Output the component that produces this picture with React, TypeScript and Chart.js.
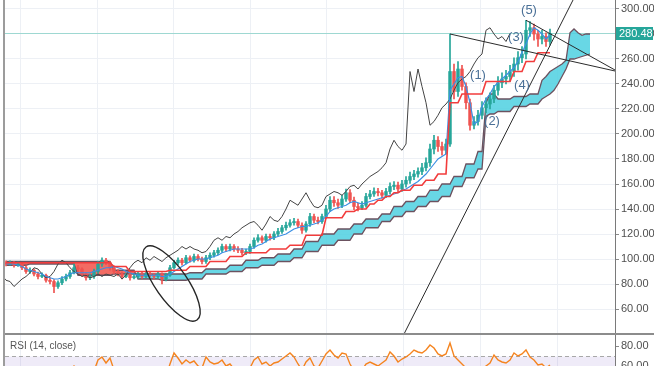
import React, { useEffect, useRef } from 'react';
import { Chart, registerables } from 'chart.js';

Chart.register(...registerables);

// ---------- data (bar index i, one bar every 4px) ----------
const firstOpen = 97;
const closes = [
  96, 97, 95, 96, 93, 90, 91, 88, 86, 87,
  83, 82, 78, 81, 84, 86, 89, 93, 92, 88,
  85, 86, 90, 96, 99, 97, 93, 90, 88, 86,
  87, 85, 86, 88, 86, 88, 87, 86, 88, 84,
  87, 93, 97, 99, 97, 101, 99, 102, 100, 98,
  101, 103, 105, 107, 110, 108, 110, 108, 107, 105,
  106, 110, 115, 117, 115, 118, 117, 120, 122, 125,
  127, 129, 130, 127, 123, 128, 134, 131, 130, 134,
  140, 147, 145, 143, 148, 153, 147, 142, 141, 143,
  150, 152, 154, 153, 151, 154, 158, 159, 156, 160,
  163, 166, 168, 170, 173, 177, 188, 195, 190, 187,
  192, 250, 234, 252, 238, 225, 207, 210, 215, 221,
  224, 228, 235, 241, 244, 246, 250, 256, 261, 264,
  283, 285, 280, 276, 278, 274, 280.48,
];
const highs = [
  98.5, 98.5, 98, 97.5, 97, 94.5, 93, 92, 89.5, 89,
  88, 85, 83.5, 82.5, 86, 88, 91, 96, 95, 93,
  89, 88, 92, 98, 101, 100.5, 98, 94.5, 91.5, 89.5,
  89, 88.5, 88, 89.5, 89.5, 89.5, 89.5, 88.5, 90, 89,
  88.5, 95, 99, 101, 100.5, 103, 102.5, 104, 103.5, 101.5,
  103, 105, 107, 109, 112, 111.5, 112, 111.5, 110, 108.5,
  108, 112, 117, 119.5, 118.5, 120, 120, 122, 124.5, 127,
  129.5, 131.5, 132.5, 132, 129, 130, 136.5, 136, 133.5, 136,
  143, 150, 150, 148, 151, 156, 155.5, 149.5, 144.5, 146,
  152.5, 155, 157, 156.5, 155, 156.5, 161, 162, 161.5, 163,
  166, 169.5, 171, 173, 176.5, 181, 192, 199, 198, 193.5,
  196, 280, 256, 258, 255, 241, 228, 214, 219, 226,
  229, 233, 239, 246, 249, 251, 255, 261, 266, 270,
  291, 290, 288, 283, 283, 281, 284,
];
const lows = [
  94.5, 95, 93.5, 94, 91.5, 88.5, 88.5, 86.5, 84, 85,
  81.5, 80, 73, 76.5, 79.5, 82.5, 84.5, 88, 90, 86.5,
  83, 83.5, 84.5, 88.5, 94, 95.5, 91, 88, 86.5, 84,
  85, 83, 84, 84.5, 84.5, 85, 85.5, 84, 84.5, 80,
  82.5, 86, 92, 95.5, 95, 96, 97.5, 97.5, 98.5, 96,
  96.5, 99.5, 101.5, 103.5, 105.5, 106, 106.5, 106, 105, 103,
  103.5, 104.5, 108.5, 113.5, 113, 113.5, 115, 115.5, 118.5, 120.5,
  123, 125.5, 127, 125, 120.5, 121.5, 126, 129, 128, 128.5,
  132.5, 138, 142, 140.5, 141, 146, 145, 139.5, 138.5, 139.5,
  141.5, 148, 150, 150.5, 148.5, 149, 152, 155.5, 153.5, 154,
  157.5, 160.5, 163.5, 165.5, 167.5, 170.5, 174, 184, 186, 183,
  184, 190, 228, 230, 235, 220, 203, 204, 207, 212,
  217, 220, 225, 231, 237, 240, 242, 246, 251, 257,
  260, 278, 275, 270, 272, 270, 271,
];
const tenkan = [
  96, 96, 96, 95, 94, 92, 91, 90, 89, 88,
  86, 85, 84, 84, 85, 86, 88, 89, 89, 89,
  89, 89, 90, 91, 92, 93, 93, 94, 93, 92,
  90, 89, 88, 87, 87, 87, 87, 87, 87, 86,
  86, 88, 90, 92, 94, 96, 98, 99, 100, 100,
  100, 101, 102, 103, 105, 106, 107, 108, 108, 108,
  108, 108, 109, 111, 112, 114, 116, 117, 118, 119,
  120, 122, 124, 125, 126, 126, 127, 128, 129, 131,
  134, 138, 140, 141, 142, 143, 145, 146, 145, 144,
  145, 146, 147, 148, 149, 150, 151, 152, 153, 155,
  156, 158, 160, 162, 165, 168, 172, 176, 180, 182,
  184, 235, 240, 245, 246, 238, 225, 208, 210, 222,
  228, 232, 238, 241, 244, 247, 250, 253, 258, 265,
  272, 280, 285, 283, 280, 276, 279,
];
const kijun = [
  97, 97, 97, 97, 97, 97, 97, 97, 97, 97,
  97, 97, 97, 97, 97, 97, 97, 97, 97, 97,
  97, 97, 97, 97, 97, 97, 97, 94, 94, 94,
  94, 90, 90, 90, 90, 90, 90, 90, 90, 90,
  90, 91, 91, 91, 91, 91, 94, 94, 94, 94,
  94, 98, 98, 98, 98, 98, 102, 102, 102, 102,
  105, 105, 105, 105, 105, 105, 108, 108, 108, 108,
  108, 111, 111, 111, 111, 119, 119, 119, 119, 119,
  133, 133, 133, 133, 133, 138, 138, 138, 140, 140,
  140, 144, 144, 147, 147, 150, 150, 153, 153, 155,
  155, 155, 159, 159, 159, 163, 163, 163, 168, 168,
  168, 225, 225, 225, 232, 232, 232, 232, 232, 232,
  242, 242, 242, 242, 242, 242, 242, 250, 250, 250,
  258, 258, 258, 265, 265, 265, 265,
];
// leading spans run 10 bars past the last candle
const spanA = [
  95, 95, 95, 95, 95, 95, 96, 96, 96, 96,
  96, 96, 96, 96, 96, 96, 96, 96, 87, 87,
  87, 87, 87, 87, 87, 87, 87, 88, 88, 88,
  88, 88, 88, 88, 88, 88, 88, 88, 88, 88,
  88, 88, 88, 88, 88, 88, 89, 89, 89, 89,
  92, 92, 92, 92, 92, 92, 95, 95, 95, 95,
  99, 99, 99, 99, 101, 101, 101, 101, 104, 104,
  104, 104, 108, 108, 108, 114, 114, 114, 114, 120,
  120, 120, 120, 124, 124, 124, 124, 128, 128, 128,
  132, 132, 132, 132, 136, 136, 136, 142, 142, 142,
  146, 146, 146, 150, 150, 150, 155, 155, 155, 160,
  160, 160, 166, 166, 166, 176, 176, 176, 186, 186,
  225, 232, 232, 228, 228, 228, 228, 230, 230, 230,
  230, 232, 232, 232, 243, 246, 250, 252, 254, 256,
  259, 281, 284, 281, 279, 280, 280,
];
const spanB = [
  98, 98, 98, 98, 98, 98, 98, 98, 98, 98,
  98, 98, 98, 98, 98, 98, 98, 98, 98, 98,
  98, 98, 98, 98, 98, 98, 98, 91, 91, 91,
  91, 91, 91, 84, 84, 84, 84, 84, 84, 83,
  83, 83, 83, 83, 83, 83, 84, 84, 84, 84,
  88, 88, 88, 88, 88, 88, 90, 90, 90, 90,
  93, 93, 93, 93, 95, 95, 95, 95, 98, 98,
  98, 98, 101, 101, 101, 106, 106, 106, 106, 111,
  111, 111, 111, 115, 115, 115, 115, 120, 120, 120,
  125, 125, 125, 125, 130, 130, 130, 134, 134, 134,
  138, 138, 138, 142, 142, 142, 146, 146, 146, 150,
  150, 150, 158, 158, 158, 165, 165, 165, 172, 172,
  214, 216, 216, 218, 218, 218, 218, 222, 222, 222,
  222, 224, 224, 224, 228, 230, 232, 235, 240, 246,
  252, 260, 260, 261, 262, 263, 264,
];
const rsi = [
  45, 48, 44, 42, 40, 42, 38, 36, 40, 42,
  38, 35, 33, 42, 48, 52, 55, 60, 57, 50,
  45, 47, 55, 66, 69, 63, 68, 56, 50, 46,
  48, 44, 46, 49, 47, 45, 50, 48, 44, 42,
  50, 62, 73, 68, 62, 66, 63, 65, 60, 58,
  69, 64, 62, 63, 66, 60, 62, 57, 52, 48,
  50, 58, 66, 69, 62, 64, 60, 63, 64, 67,
  70, 73, 69, 62, 56, 64, 68, 60, 58, 65,
  72, 76, 71, 68, 73, 72, 62, 55, 52, 56,
  62, 64, 62, 60, 63, 66, 74, 70, 64, 67,
  69, 72, 76, 74, 73, 76, 81, 78, 72, 70,
  72, 83, 70, 66, 62, 58, 48, 50, 54, 57,
  60, 63, 71, 66, 64, 63, 66, 73, 70, 72,
  76, 69, 66, 61, 62, 58, 61,
];
const LAG = 10; // lagging span shift in bars
const lastPrice = 280.48;
const priceTicks = [60, 80, 100, 120, 140, 160, 180, 200, 220, 240, 260, 280, 300];
const rsiTicks = [60, 80];
const timeGrid = [3.5, 22.75, 41.75, 61, 80, 99.25, 118.5, 137.75];
const trend1 = [{ x: 111, y: 280 }, { x: 152.25, y: 250.4 }];
const trend2 = [{ x: 130, y: 291 }, { x: 152.25, y: 251.2 }];
const trend3 = [{ x: 99, y: 36.8 }, { x: 142.5, y: 311.9 }];
const waveLabels = [
  { text: '(1)', x: 118, y: 247.2 },
  { text: '(2)', x: 121.5, y: 210.4 },
  { text: '(3)', x: 127.5, y: 277.6 },
  { text: '(4)', x: 129, y: 239.2 },
  { text: '(5)', x: 130.75, y: 299.2 },
];
const ellipseAxis = [{ x: 35, y: 109.6 }, { x: 47.75, y: 51.2 }];
const ellipseMinorPx = 16;

const FONT = '"Liberation Sans", Arial, sans-serif';
const UP = '#26a69a';
const DOWN = '#ef5350';
const GRID = '#edf0f5';

export default function App() {
  const mainRef = useRef<HTMLCanvasElement>(null);
  const rsiRef = useRef<HTMLCanvasElement>(null);

  useEffect(() => {
    const opens = closes.map((c, i) => (i === 0 ? firstOpen : closes[i - 1]));
    const colors = closes.map((c, i) => (c >= opens[i] ? UP : DOWN));

    const xScale = {
      type: 'linear' as const,
      min: -0.25,
      max: 152.25,
      offset: false,
      ticks: { display: false },
      grid: { color: GRID, drawTicks: false, offset: false },
      border: { display: false },
      afterBuildTicks: (s: any) => {
        s.ticks = timeGrid.map((v) => ({ value: v }));
      },
      afterFit: (s: any) => {
        s.height = 0;
      },
    };

    const overlay = {
      id: 'overlay',
      beforeDatasetsDraw(chart: any) {
        const { ctx, chartArea: a, scales } = chart;
        const py = Math.round(scales.y.getPixelForValue(lastPrice)) + 0.5;
        ctx.save();
        ctx.strokeStyle = '#9ed8d2';
        ctx.lineWidth = 1;
        ctx.beginPath();
        ctx.moveTo(a.left, py);
        ctx.lineTo(a.right, py);
        ctx.stroke();
        ctx.restore();
      },
      afterDatasetsDraw(chart: any) {
        const { ctx, scales } = chart;
        const { x, y } = scales;
        const x1 = x.getPixelForValue(ellipseAxis[0].x);
        const y1 = y.getPixelForValue(ellipseAxis[0].y);
        const x2 = x.getPixelForValue(ellipseAxis[1].x);
        const y2 = y.getPixelForValue(ellipseAxis[1].y);
        const cx = (x1 + x2) / 2;
        const cy = (y1 + y2) / 2;
        const half = Math.hypot(x2 - x1, y2 - y1) / 2;
        const ang = Math.atan2(y2 - y1, x2 - x1);
        ctx.save();
        ctx.beginPath();
        ctx.ellipse(cx, cy, half, ellipseMinorPx, ang, 0, Math.PI * 2);
        ctx.strokeStyle = '#262626';
        ctx.lineWidth = 1.4;
        ctx.stroke();
        ctx.font = `13px ${FONT}`;
        ctx.fillStyle = '#4a7097';
        ctx.textAlign = 'center';
        ctx.textBaseline = 'middle';
        waveLabels.forEach((w) => {
          ctx.fillText(w.text, x.getPixelForValue(w.x), y.getPixelForValue(w.y));
        });
        ctx.restore();
      },
      afterDraw(chart: any) {
        const { ctx, chartArea: a, scales } = chart;
        const py = scales.y.getPixelForValue(lastPrice);
        ctx.save();
        ctx.fillStyle = '#26a69a';
        ctx.fillRect(a.right + 1, Math.round(py - 6.5), 37, 13);
        ctx.fillStyle = '#ffffff';
        ctx.font = `11px ${FONT}`;
        ctx.textAlign = 'left';
        ctx.textBaseline = 'middle';
        ctx.fillText(lastPrice.toFixed(2), a.right + 4, py + 0.5);
        ctx.restore();
      },
    };

    const line = (data: any[], color: string, width: number, order: number, extra: any = {}) => ({
      type: 'line' as const,
      data,
      borderColor: color,
      borderWidth: width,
      pointRadius: 0,
      tension: 0,
      fill: false,
      order,
      ...extra,
    });

    const datasets: any[] = [
      line(trend1, '#2b2b2b', 1, 0),
      line(trend2, '#2b2b2b', 1, 0),
      line(trend3, '#2b2b2b', 1, 0),
      line(kijun.map((v, i) => ({ x: i, y: v })), '#f23c3c', 1.6, 1),
      line(tenkan.map((v, i) => ({ x: i, y: v })), '#3b8fe4', 1.2, 2),
      line(closes.map((c, i) => ({ x: i - LAG, y: c })), '#444444', 1, 3),
      {
        type: 'bar',
        data: closes.map((c, i) => ({ x: i, y: [opens[i], c] })),
        backgroundColor: colors,
        barThickness: 2.8,
        minBarLength: 1,
        grouped: false,
        order: 4,
      },
      {
        type: 'bar',
        data: closes.map((c, i) => ({ x: i, y: [lows[i], highs[i]] })),
        backgroundColor: colors,
        barThickness: 1,
        grouped: false,
        order: 5,
      },
      line(spanA.map((v, i) => ({ x: i, y: v })), '#6b5260', 1.3, 7, {
        fill: { target: 9, above: 'rgba(77,208,225,0.85)', below: 'rgba(240,70,60,0.8)' },
      }),
      line(spanB.map((v, i) => ({ x: i, y: v })), '#6b5260', 1.3, 6),
    ];

    const main = new Chart(mainRef.current as HTMLCanvasElement, {
      type: 'bar',
      data: { datasets },
      options: {
        responsive: false,
        animation: false,
        devicePixelRatio: 1,
        layout: { padding: { left: 5, right: 0, top: 0, bottom: 0 } },
        plugins: { legend: { display: false }, tooltip: { enabled: false } },
        scales: {
          x: xScale as any,
          y: {
            position: 'right',
            min: 39.2,
            max: 307.2,
            grid: { color: GRID, tickLength: 4, tickColor: '#8a8a8a' },
            border: { display: true, color: '#7a7a7a' },
            ticks: {
              font: { family: FONT, size: 11 },
              color: '#4f4f4f',
              padding: 2,
              autoSkip: false,
              callback: (v: any) => Number(v).toFixed(2),
            },
            afterBuildTicks: (s: any) => {
              s.ticks = priceTicks.map((v) => ({ value: v }));
            },
            afterFit: (s: any) => {
              s.width = 39;
              s.paddingTop = 0;
              s.paddingBottom = 0;
            },
          } as any,
        },
      },
      plugins: [overlay],
    } as any);

    const rsiPlugin = {
      id: 'rsiBand',
      beforeDatasetsDraw(chart: any) {
        const { ctx, chartArea: a, scales } = chart;
        const y70 = Math.round(scales.y.getPixelForValue(70)) + 0.5;
        ctx.save();
        ctx.fillStyle = 'rgba(126,87,194,0.12)';
        ctx.fillRect(a.left, y70, a.right - a.left, a.bottom - y70);
        ctx.strokeStyle = '#a8a8a8';
        ctx.setLineDash([4, 3]);
        ctx.lineWidth = 1;
        ctx.beginPath();
        ctx.moveTo(a.left, y70);
        ctx.lineTo(a.right, y70);
        ctx.stroke();
        ctx.restore();
      },
      afterDraw(chart: any) {
        const { ctx } = chart;
        ctx.save();
        ctx.font = `10px ${FONT}`;
        ctx.fillStyle = '#555555';
        ctx.textAlign = 'left';
        ctx.textBaseline = 'middle';
        ctx.fillText('RSI (14, close)', 10, 11);
        ctx.restore();
      },
    };

    const rsiChart = new Chart(rsiRef.current as HTMLCanvasElement, {
      type: 'line',
      data: {
        datasets: [
          {
            data: rsi.map((v, i) => ({ x: i, y: v })),
            borderColor: '#f5841f',
            borderWidth: 1.4,
            pointRadius: 0,
            tension: 0,
            fill: false,
          },
        ],
      },
      options: {
        responsive: false,
        animation: false,
        devicePixelRatio: 1,
        layout: { padding: { left: 5, right: 0, top: 0, bottom: 0 } },
        plugins: { legend: { display: false }, tooltip: { enabled: false } },
        scales: {
          x: xScale as any,
          y: {
            position: 'right',
            min: 60,
            max: 91,
            grid: { drawOnChartArea: false, tickLength: 4, tickColor: '#8a8a8a' },
            border: { display: true, color: '#7a7a7a' },
            ticks: {
              font: { family: FONT, size: 11 },
              color: '#4f4f4f',
              padding: 2,
              autoSkip: false,
              callback: (v: any) => Number(v).toFixed(2),
            },
            afterBuildTicks: (s: any) => {
              s.ticks = rsiTicks.map((v) => ({ value: v }));
            },
            afterFit: (s: any) => {
              s.width = 39;
              s.paddingTop = 0;
              s.paddingBottom = 0;
            },
          } as any,
        },
      },
      plugins: [rsiPlugin],
    } as any);

    return () => {
      main.destroy();
      rsiChart.destroy();
    };
  }, []);

  return (
    <div
      style={{
        position: 'fixed',
        left: 0,
        top: 0,
        width: 654,
        height: 366,
        background: '#ffffff',
        overflow: 'hidden',
      }}
    >
      <canvas
        ref={mainRef}
        width={654}
        height={335}
        style={{ position: 'absolute', left: 0, top: 0, width: 654, height: 335 }}
      />
      <canvas
        ref={rsiRef}
        width={654}
        height={31}
        style={{ position: 'absolute', left: 0, top: 335, width: 654, height: 31 }}
      />
      <div style={{ position: 'absolute', left: 4, top: 333, width: 650, height: 2, background: '#8c8c8c' }} />
      <div style={{ position: 'absolute', left: 3, top: 0, width: 2, height: 366, background: '#9c9c9c' }} />
    </div>
  );
}
